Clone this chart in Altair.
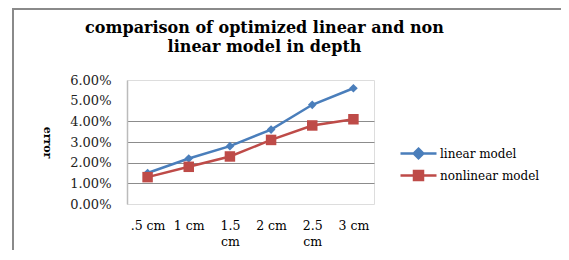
import altair as alt
import pandas as pd

depths = [".5 cm", "1 cm", "1.5 cm", "2 cm", "2.5 cm", "3 cm"]
linear_err = [0.015, 0.022, 0.028, 0.036, 0.048, 0.056]
nonlinear_err = [0.013, 0.018, 0.023, 0.031, 0.038, 0.041]
series_names = ["linear model", "nonlinear model"]
y_ticks = [0.0, 0.01, 0.02, 0.03, 0.04, 0.05, 0.06]

rows = []
for d, a, b in zip(depths, linear_err, nonlinear_err):
    rows.append({"depth": d, "series": series_names[0], "marker": series_names[0], "error": a})
    rows.append({"depth": d, "series": series_names[1], "marker": series_names[1], "error": b})
df = pd.DataFrame(rows)

BLUE = "#4A7EBB"
RED = "#BE4B48"
FONT = "DejaVu Serif"

color_scale = alt.Scale(domain=series_names, range=[BLUE, RED])

x = alt.X(
    "depth:N",
    sort=depths,
    title=None,
    scale=alt.Scale(padding=0.5),
    axis=alt.Axis(
        labelAngle=0,
        ticks=False,
        domain=False,
        grid=False,
        labelPadding=15,
        labelFont=FONT,
        labelFontSize=12.5,
        labelColor="#000000",
        labelLineHeight=16,
        labelExpr="indexof(datum.label, '.5 cm') > 0 ? split(datum.label, ' ') : datum.label",
    ),
)

y = alt.Y(
    "error:Q",
    scale=alt.Scale(domain=[0, 0.06], nice=False),
    axis=alt.Axis(
        values=y_ticks,
        format=".2%",
        title="error",
        titleAngle=90,
        titleFont=FONT,
        titleFontSize=11,
        titleFontWeight="bold",
        titleColor="#000000",
        titlePadding=28,
        ticks=False,
        domain=True,
        domainColor="#BBBBBB",
        domainWidth=1.5,
        labelPadding=16,
        labelFont=FONT,
        labelFontSize=13,
        labelColor="#222222",
        grid=True,
        gridColor="#8C8C8C",
        gridWidth=1,
        gridOpacity={"condition": {"test": "datum.value > 0.005 && datum.value < 0.045", "value": 1}, "value": 0},
    ),
)

diamond_path = "M-3,0L3,0M0,-0.8L0.8,0L0,0.8L-0.8,0Z"
square_path = "M-3,0L3,0M-0.75,-0.75L0.75,-0.75L0.75,0.75L-0.75,0.75Z"

legend = alt.Legend(
    title=None,
    orient="none",
    legendX=284,
    legendY=66,
    padding=0,
    symbolSize=144,
    symbolType=alt.ExprRef(f"datum.value === '{series_names[0]}' ? '{diamond_path}' : '{square_path}'"),
    symbolStrokeColor=alt.ExprRef(f"datum.value === '{series_names[0]}' ? '{BLUE}' : '{RED}'"),
    symbolStrokeWidth=2.5,
    symbolOpacity=1,
    labelOffset=14,
    rowPadding=2,
    labelFont=FONT,
    labelFontSize=12,
    labelColor="#000000",
)

lines = alt.Chart(df).mark_line(strokeWidth=2.5).encode(
    x=x, y=y, color=alt.Color("series:N", scale=color_scale, legend=legend)
)

points = alt.Chart(df).mark_point(filled=True, opacity=1).encode(
    x=x,
    y=y,
    color=alt.Color("series:N", scale=color_scale, legend=legend),
    shape=alt.Shape("marker:N", scale=alt.Scale(range=["diamond", "square"]), legend=None),
    size=alt.Size("marker:N", scale=alt.Scale(range=[75, 110]), legend=None),
)

frame = alt.Chart(alt.Data(values=[{}])).mark_rect(
    fill=None, filled=False, stroke="#8A8A8A", strokeWidth=2
).encode(
    x=alt.value(-114), x2=alt.value(439), y=alt.value(-71), y2=alt.value(200)
)

chart = alt.layer(frame, lines, points).properties(
    width=247,
    height=124,
    title=alt.TitleParams(
        text=["comparison of optimized linear and non", "linear model in depth"],
        font=FONT,
        fontSize=16,
        fontWeight="bold",
        color="#000000",
        anchor="middle",
        frame="group",
        dx=14,
        dy=47,
        offset=0,
        lineHeight=19,
    ),
    autosize=alt.AutoSizeParams(type="none"),
    padding={"left": 119, "top": 72, "right": 187, "bottom": 46},
).configure_view(stroke=None).configure(background="#FFFFFF")

chart.save("out.html", embed_options={"renderer": "svg", "actions": False})
